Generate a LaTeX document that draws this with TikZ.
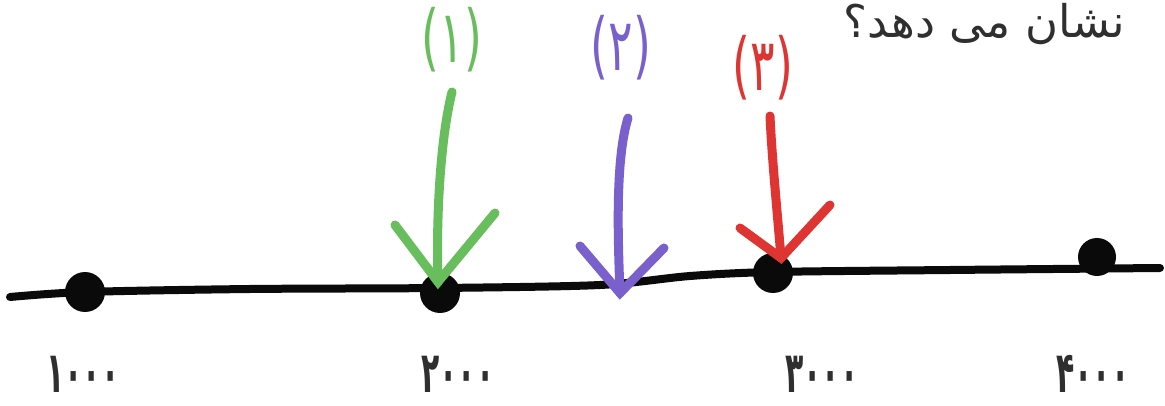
\documentclass[tikz,border=0pt]{standalone}
\usepackage{fontspec}
\newfontfamily\arabicfont[Script=Arabic]{DejaVu Sans}
\TeXXeTstate=1
\definecolor{gr}{RGB}{104,190,92}
\definecolor{pu}{RGB}{122,96,204}
\definecolor{rd}{RGB}{222,52,50}
\definecolor{bk}{RGB}{10,10,10}
\newcommand{\labtxt}[1]{\scalebox{0.88}[1.4]{#1}}
\newcommand{\numtxt}[1]{\scalebox{0.68}[1.3]{#1}}
\begin{document}
\begin{tikzpicture}[x=1pt,y=-1pt,
  dot/.style={circle,fill=bk,inner sep=0pt,minimum size=40pt},
  axis/.style={draw=bk,line width=8pt,line cap=round,line join=round},
  stroke/.style={line width=9pt,line cap=round},
  lab/.style={font=\arabicfont\fontsize{52}{60}\selectfont,inner sep=0pt},
  num/.style={font=\arabicfont\bfseries\fontsize{44}{50}\selectfont,inner sep=0pt,anchor=base,text=bk!85}]
\useasboundingbox[fill=white] (0,0) rectangle (1165,406);
% axis
\coordinate (a0) at (10,297);
\coordinate (a1) at (85,292);
\coordinate (a2) at (250,289);
\coordinate (a3) at (440,288);
\coordinate (a4) at (600,285);
\coordinate (a5) at (690,276);
\coordinate (a6) at (773,272);
\coordinate (a7) at (950,270);
\coordinate (a8) at (1160,268);
\draw[axis] plot[smooth,tension=0.5] coordinates {(a0)(a1)(a2)(a3)(a4)(a5)(a6)(a7)(a8)};
\node[dot] (d1) at (85,292) {};
\node[dot] (d2) at (440,293) {};
\node[dot] (d3) at (773,273) {};
\node[dot,minimum size=38pt] (d4) at (1097,257) {};
% numbers
\node[num] (n1) at (83,392) {\numtxt{۱۰۰۰}};
\node[num] (n2) at (458,392) {\numtxt{۲۰۰۰}};
\node[num] (n3) at (822,392) {\numtxt{۳۰۰۰}};
\node[num] (n4) at (1093,392) {\numtxt{۴۰۰۰}};
% green arrow
\coordinate (g0) at (452,92);
\coordinate (gt) at (438,282);
\coordinate (gl) at (395,225);
\coordinate (gr) at (495,213);
\draw[stroke,gr] (g0) .. controls (440,140) and (436,220) .. (gt);
\draw[stroke,gr] (gl) -- (gt) -- (gr);
\node[lab,text=gr] (l1) at (452,40) {\labtxt{(۱)}};
% purple arrow
\coordinate (p0) at (628,118);
\coordinate (pt) at (620,293);
\coordinate (pl) at (580,246);
\coordinate (pr) at (664,248);
\draw[stroke,pu] (p0) .. controls (615,160) and (618,240) .. (pt);
\draw[stroke,pu] (pl) -- (pt) -- (pr);
\node[lab,text=pu] (l2) at (621,48) {\labtxt{(۲)}};
% red arrow
\coordinate (r0) at (770,116);
\coordinate (rt) at (781,258);
\coordinate (rl) at (740,228);
\coordinate (rr) at (830,205);
\draw[stroke,rd] (r0) .. controls (772,160) and (778,220) .. (rt);
\draw[stroke,rd] (rl) -- (rt) -- (rr);
\node[lab,text=rd] (l3) at (763,68) {\labtxt{(۳)}};
% question
\node[font=\arabicfont\fontsize{45}{52}\selectfont,inner sep=0pt,anchor=east,text=bk!85] (q) at (1125,24) {\beginR نشان می دهد؟\endR};
\end{tikzpicture}
\end{document}
